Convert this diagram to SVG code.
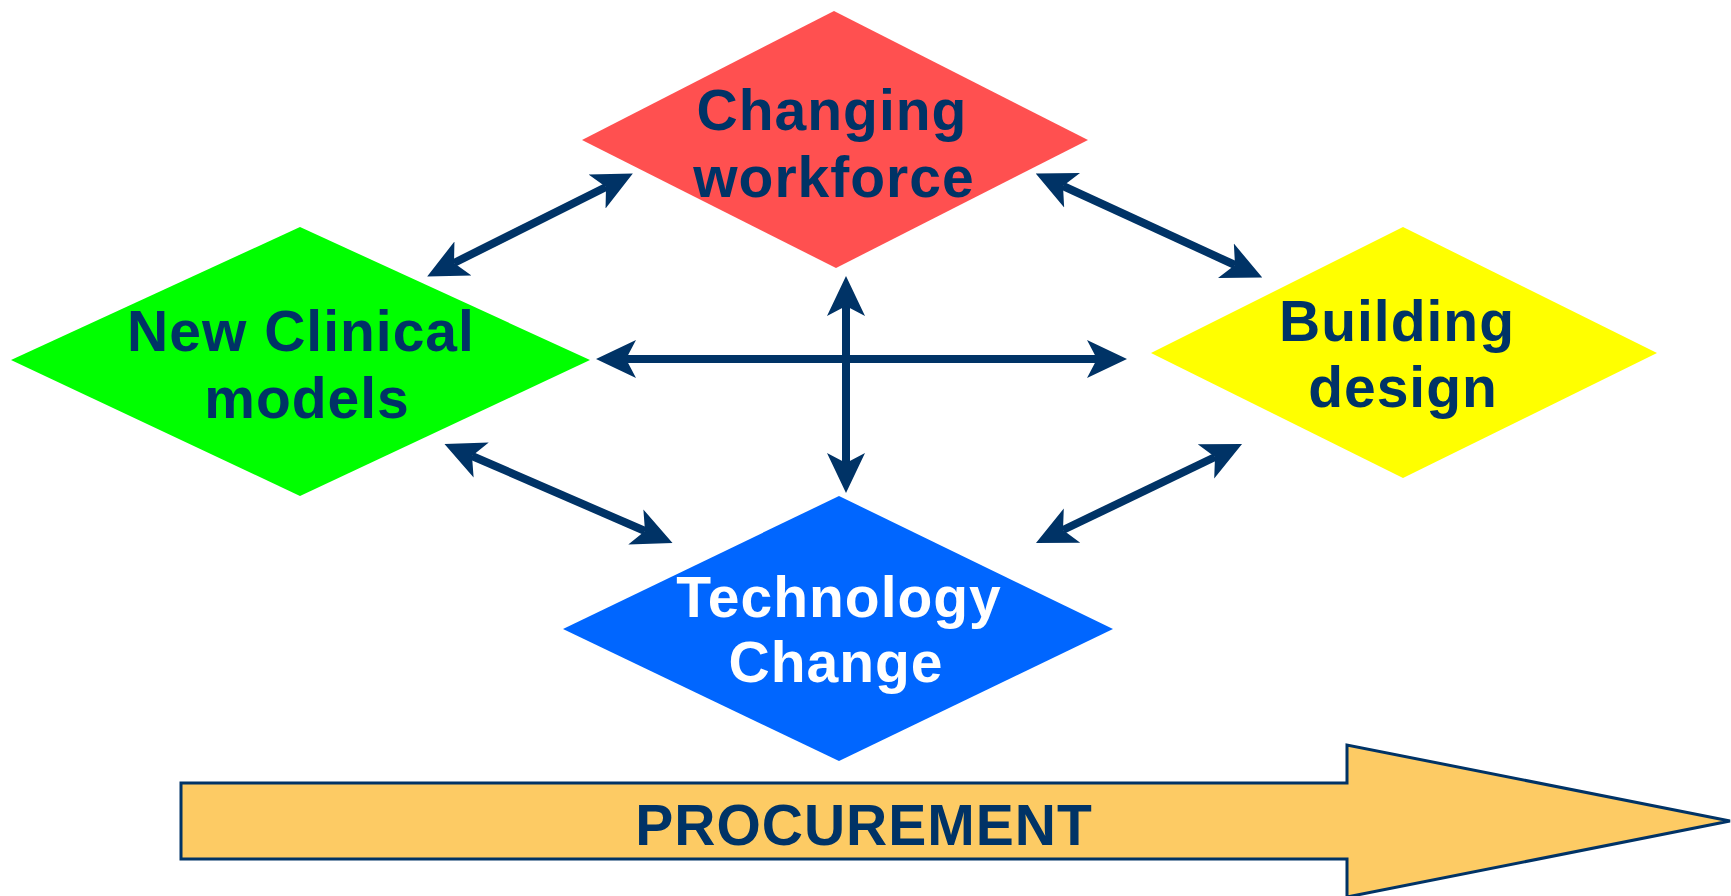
<svg xmlns="http://www.w3.org/2000/svg" width="1731" height="896" viewBox="0 0 1731 896">
<style>
.lbl{font-family:"Liberation Sans",Arial,sans-serif;font-weight:bold;font-size:57px;text-anchor:middle;fill:#003366;letter-spacing:1px}
.wt{fill:#ffffff}
.conn{stroke:#003366;stroke-width:8;fill:none;marker-start:url(#ah);marker-end:url(#ah)}
</style>
<defs>
<marker id="ah" viewBox="0 0 40 40" refX="10" refY="20" markerWidth="40" markerHeight="40" markerUnits="userSpaceOnUse" orient="auto-start-reverse">
<path d="M40,20 L0,1 L10,20 L0,39 Z" fill="#003366"/>
</marker>
</defs>
<rect width="1731" height="896" fill="#ffffff"/>
<g id="workforce">
<polygon points="834,11 1088,140 836,268 582,140" fill="#FF5050"/>
<text class="lbl" x="832" y="130">Changing</text>
<text class="lbl" x="834" y="197">workforce</text>
</g>
<g id="clinical">
<polygon points="300,227 590,360 300,496 11,360" fill="#00FF00"/>
<text class="lbl" x="301" y="351">New Clinical</text>
<text class="lbl" x="307" y="418">models</text>
</g>
<g id="building">
<polygon points="1403,227 1657,353 1403,478 1151,353" fill="#FFFF00"/>
<text class="lbl" x="1397" y="341">Building</text>
<text class="lbl" x="1403" y="407">design</text>
</g>
<g id="technology">
<polygon points="839,496 1113,629 839,761 563,629" fill="#0066FF"/>
<text class="lbl wt" x="839" y="617">Technology</text>
<text class="lbl wt" x="836" y="682">Change</text>
</g>
<g id="procurement">
<polygon points="181,783 1347,783 1347,745 1730,821 1347,897 1347,859 181,859" fill="#FDCB64" stroke="#003366" stroke-width="3"/>
<text class="lbl" x="864" y="845">PROCUREMENT</text>
</g>
<g id="connectors">
<line class="conn" x1="454" y1="263" x2="606" y2="187"/>
<line class="conn" x1="1063" y1="186" x2="1235" y2="265"/>
<line class="conn" x1="626" y1="359" x2="1097" y2="359"/>
<line class="conn" x1="846" y1="306" x2="846" y2="463"/>
<line class="conn" x1="472" y1="456" x2="645" y2="531"/>
<line class="conn" x1="1215" y1="457" x2="1063" y2="530"/>
</g>
</svg>
